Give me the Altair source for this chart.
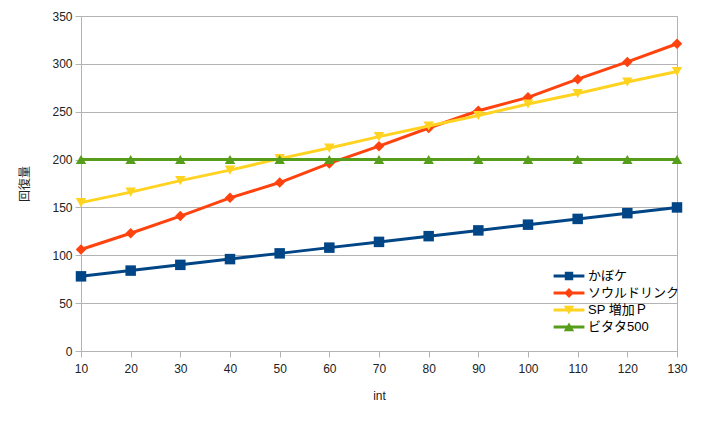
import altair as alt
import pandas as pd

x_vals = [10, 20, 30, 40, 50, 60, 70, 80, 90, 100, 110, 120, 130]
kabo = [78, 84, 90, 96, 102, 108, 114, 120, 126, 132, 138, 144, 150]
soul = [106, 123, 141, 160, 176, 196, 214, 233, 251, 265, 284, 302, 321]
sp = [155, 166, 178, 189, 201, 212, 224, 235, 246, 258, 269, 281, 292]
vita = [200, 200, 200, 200, 200, 200, 200, 200, 200, 200, 200, 200, 200]

names = ["かぼケ", "ソウルドリンク", "SP 増加Ｐ", "ビタタ500"]
colors = ["#004586", "#ff420e", "#ffd320", "#579d1c"]
shapes = ["square", "diamond", "triangle-down", "triangle-up"]

bar = "M-2.2,-0.22L2.2,-0.22L2.2,0.22L-2.2,0.22Z"
legend_paths = [
    bar + "M-0.6,-0.6L0.6,-0.6L0.6,0.6L-0.6,0.6Z",
    bar + "M0,-0.7L0.7,0L0,0.7L-0.7,0Z",
    bar + "M-0.75,-0.6L0.75,-0.6L0,0.65Z",
    bar + "M0,-0.65L0.75,0.6L-0.75,0.6Z",
]

rows = []
for name, ys in zip(names, [kabo, soul, sp, vita]):
    for xv, yv in zip(x_vals, ys):
        rows.append({"series": name, "x": xv, "y": yv})
df = pd.DataFrame(rows)

font = "Liberation Sans, Noto Sans CJK JP"

xenc = alt.X("x:Q", scale=alt.Scale(domain=[10, 130], nice=False),
             axis=alt.Axis(values=x_vals, title="int", grid=False, tickSize=6,
                           labelFlush=False, labelPadding=6, titlePadding=16))
yenc = alt.Y("y:Q", scale=alt.Scale(domain=[0, 350], nice=False),
             axis=alt.Axis(values=list(range(0, 351, 50)), title="回復量",
                           tickSize=6, labelPadding=3, titlePadding=20))

base = alt.Chart(df)

layers = []
for i, (name, col, shp) in enumerate(zip(names, colors, shapes)):
    sub = base.transform_filter(alt.datum.series == name)
    if i == 0:
        layers.append(sub.mark_line(strokeWidth=3, color=col).encode(x=xenc, y=yenc))
    else:
        layers.append(sub.mark_line(strokeWidth=3, color=col).encode(x="x:Q", y="y:Q"))
    layers.append(
        sub.mark_point(filled=True, opacity=1, size=110, shape=shp, strokeWidth=0, color=col)
        .encode(x="x:Q", y="y:Q")
    )

leg = alt.Legend(title=None, orient="none", legendX=481, legendY=253,
                 symbolSize=196, symbolStrokeWidth=0,
                 labelOffset=12, rowPadding=3,
                 labelFontSize=13, labelFont=font, labelColor="#000")

legend_layer = base.transform_filter(alt.datum.x < 0).mark_point(
    filled=True, opacity=1, strokeWidth=0
).encode(
    x="x:Q", y="y:Q",
    color=alt.Color("series:N", scale=alt.Scale(domain=names, range=colors), legend=leg),
    shape=alt.Shape("series:N", scale=alt.Scale(domain=names, range=legend_paths), legend=leg),
)

chart = alt.layer(*layers, legend_layer).properties(
    width=596, height=335,
    padding={"left": 73, "top": 8, "right": 16, "bottom": 62},
    autosize="none",
).configure_view(stroke="#b3b3b3", strokeWidth=1).configure_axis(
    gridColor="#b3b3b3", domainColor="#b3b3b3", tickColor="#b3b3b3",
    labelFont=font, titleFont=font, labelFontSize=12, titleFontSize=12,
    labelColor="#222", titleColor="#222", titleFontWeight="normal",
).configure_axisY(titleAngle=270)

chart.save("out.html", embed_options={"renderer": "svg", "actions": False})
